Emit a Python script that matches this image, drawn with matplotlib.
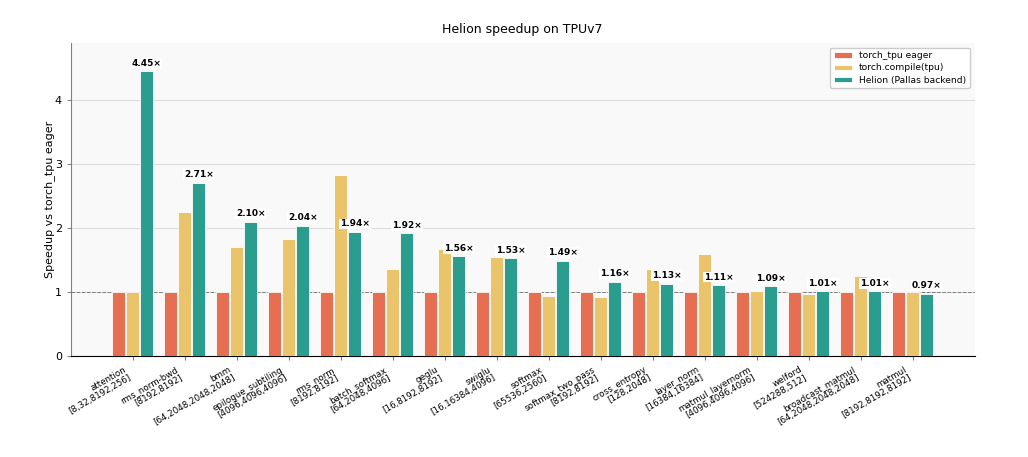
import numpy as np
import matplotlib
matplotlib.use("Agg")
import matplotlib.pyplot as plt

# kernels and shapes
kernels = ["attention", "rms_norm-bwd", "bmm", "epilogue_subtiling", "rms_norm",
           "batch_softmax", "geglu", "swiglu", "softmax", "softmax_two_pass",
           "cross_entropy", "layer_norm", "matmul_layernorm", "welford",
           "broadcast_matmul", "matmul"]
shapes = ["[8,32,8192,256]", "[8192,8192]", "[64,2048,2048,2048]", "[4096,4096,4096]",
          "[8192,8192]", "[64,2048,4096]", "[16,8192,8192]", "[16,16384,4096]",
          "[65536,2560]", "[8192,8192]", "[128,2048]", "[16384,16384]",
          "[4096,4096,4096]", "[524288,512]", "[64,2048,2048,2048]", "[8192,8192,8192]"]

eager = [1.0] * 16
compiled = [1.00, 2.25, 1.71, 1.83, 2.83, 1.36, 1.67, 1.55,
            0.94, 0.92, 1.36, 1.59, 1.01, 0.97, 1.25, 1.00]
helion = [4.45, 2.71, 2.10, 2.04, 1.94, 1.92, 1.56, 1.53,
          1.49, 1.16, 1.13, 1.11, 1.09, 1.01, 1.01, 0.97]

fig = plt.figure(figsize=(10.28, 4.57), dpi=100)
ax = fig.add_axes([0.069, 0.221, 0.879, 0.685])
ax.set_facecolor("#f9f9f9")

x = np.arange(len(kernels))
w = 0.25
off = 0.27
ax.bar(x - off, eager, w, color="#E76F51", edgecolor="white", linewidth=0.6, label="torch_tpu eager", zorder=3)
ax.bar(x, compiled, w, color="#E9C46A", edgecolor="white", linewidth=0.6, label="torch.compile(tpu)", zorder=3)
ax.bar(x + off, helion, w, color="#2A9D8F", edgecolor="white", linewidth=0.6, label="Helion (Pallas backend)", zorder=3)

# speedup labels over the Helion bars
for xi, v in zip(x, helion):
    ax.annotate(f"{v:.2f}\u00d7", (xi + off, v), xytext=(0, 2.5), textcoords="offset points",
                ha="center", va="bottom", fontsize=6.5, fontweight="bold", zorder=5,
                bbox=dict(boxstyle="square,pad=0.1", fc="white", ec="none"))

ax.axhline(1.0, color="gray", linestyle="--", linewidth=0.7, zorder=2)
ax.set_ylim(0, max(helion) * 1.1)
ax.set_yticks([0, 1, 2, 3, 4])
ax.grid(axis="y", color="#dddddd", linewidth=0.8, zorder=0)
ax.set_axisbelow(True)

ax.set_xticks(x)
ax.set_xticklabels([f"{k}\n{s}" for k, s in zip(kernels, shapes)], rotation=30, ha="right",
                   fontsize=6.3, linespacing=1.0)
ax.tick_params(axis="x", length=3, color="gray")
ax.tick_params(axis="y", labelsize=8, length=3, color="gray")

ax.spines["top"].set_visible(False)
ax.spines["right"].set_visible(False)
ax.spines["left"].set_color("gray")

ax.set_ylabel("Speedup vs torch_tpu eager", fontsize=8, labelpad=0)
ax.set_title("Helion speedup on TPUv7", fontsize=9, pad=7)
ax.legend(loc="upper right", fontsize=6.6, frameon=True, framealpha=1, edgecolor="#cccccc",
          labelspacing=0.35, handleheight=0.5)

fig.savefig("out.png", dpi=100)
